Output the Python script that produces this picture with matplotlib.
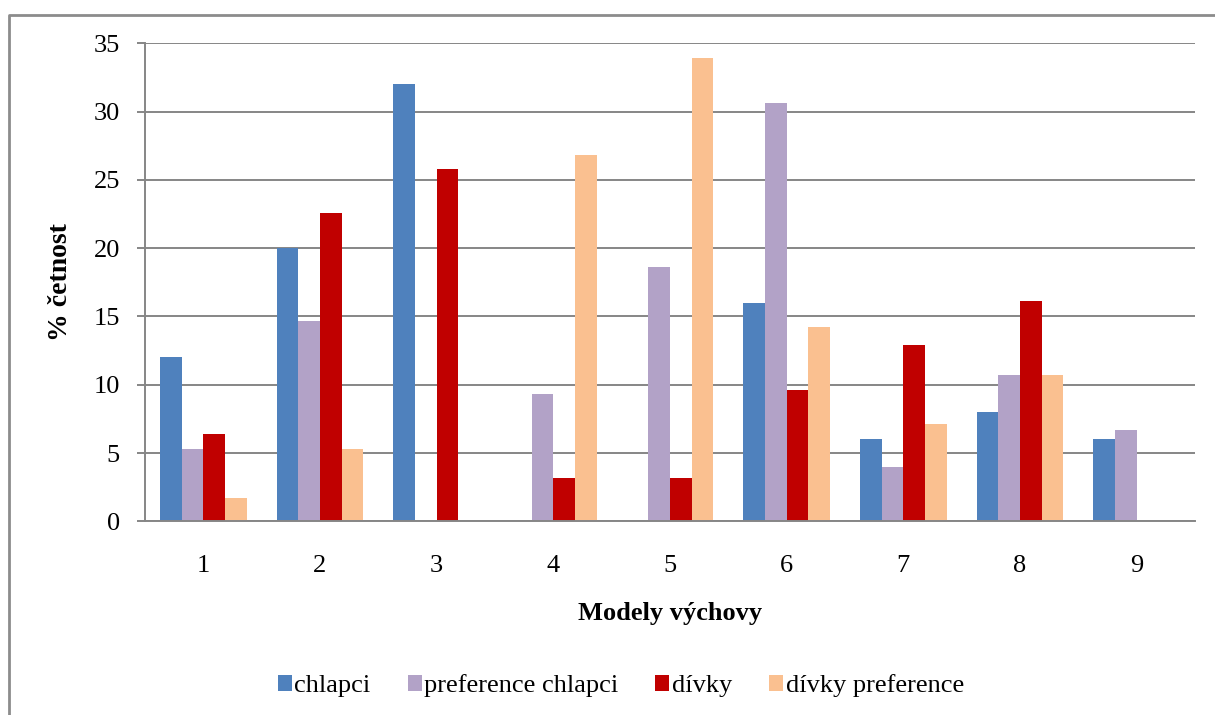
import matplotlib.pyplot as plt
import numpy as np
from matplotlib.lines import Line2D

plt.rcParams['font.family'] = ['Liberation Serif', 'DejaVu Serif']

models = ["1", "2", "3", "4", "5", "6", "7", "8", "9"]
chlapci = [12.0, 20.0, 32.0, 0, 0, 16.0, 6.0, 8.0, 6.0]
pref_chlapci = [5.3, 14.7, 0, 9.3, 18.6, 30.6, 4.0, 10.7, 6.7]
divky = [6.4, 22.6, 25.8, 3.2, 3.2, 9.6, 12.9, 16.1, 0]
divky_pref = [1.7, 5.3, 0, 26.8, 33.9, 14.2, 7.1, 10.7, 0]

series = [
    ("chlapci", chlapci, "#4f81bd"),
    ("preference chlapci", pref_chlapci, "#b2a2c7"),
    ("dívky", divky, "#c00000"),
    ("dívky preference", divky_pref, "#fac090"),
]

W, H = 1215, 715
fig = plt.figure(figsize=(W / 100, H / 100), dpi=100)
ax = fig.add_axes([145 / W, (H - 521.3) / H, (1195 - 145) / W, (521.3 - 43.3) / H])

x = np.arange(len(models))
bw = 0.186
for i, (name, vals, col) in enumerate(series):
    ax.bar(x + (i - 1.5) * bw, vals, bw, color=col, label=name, zorder=3)

ax.set_xlim(-0.5, len(models) - 0.5)
ax.set_ylim(0, 35)
ax.set_yticks(range(0, 36, 5))
ax.set_xticks(x)
ax.set_xticklabels(models)

grid_c = "#868686"
ax.yaxis.grid(True, color=grid_c, linewidth=1.4, zorder=0)
for s in ["top", "right"]:
    ax.spines[s].set_visible(False)
for s in ["left", "bottom"]:
    ax.spines[s].set_color(grid_c)
    ax.spines[s].set_linewidth(1.4)
    ax.spines[s].set_zorder(4)
ax.tick_params(axis="y", length=6, color=grid_c, width=1.4, labelsize=19, pad=12)
ax.tick_params(axis="x", length=0, labelsize=19, pad=24)

ax.set_xlabel("Modely výchovy", fontsize=19, fontweight="bold", labelpad=18)
ax.set_ylabel("% četnost", fontsize=20, fontweight="bold", labelpad=15)

ax.legend(loc="center", bbox_to_anchor=(621 / W, 1 - 686 / H), bbox_transform=fig.transFigure,
          ncol=4, frameon=False, fontsize=19, handlelength=0.53, handleheight=0.53,
          handletextpad=0.1, columnspacing=1.4)

# chart frame
fig.add_artist(Line2D([9 / W, 9 / W, 1.0], [0.0, 1 - 14.7 / H, 1 - 14.7 / H],
                      transform=fig.transFigure, color="#8c8c8c", linewidth=2))

fig.savefig("out.png", dpi=100)
